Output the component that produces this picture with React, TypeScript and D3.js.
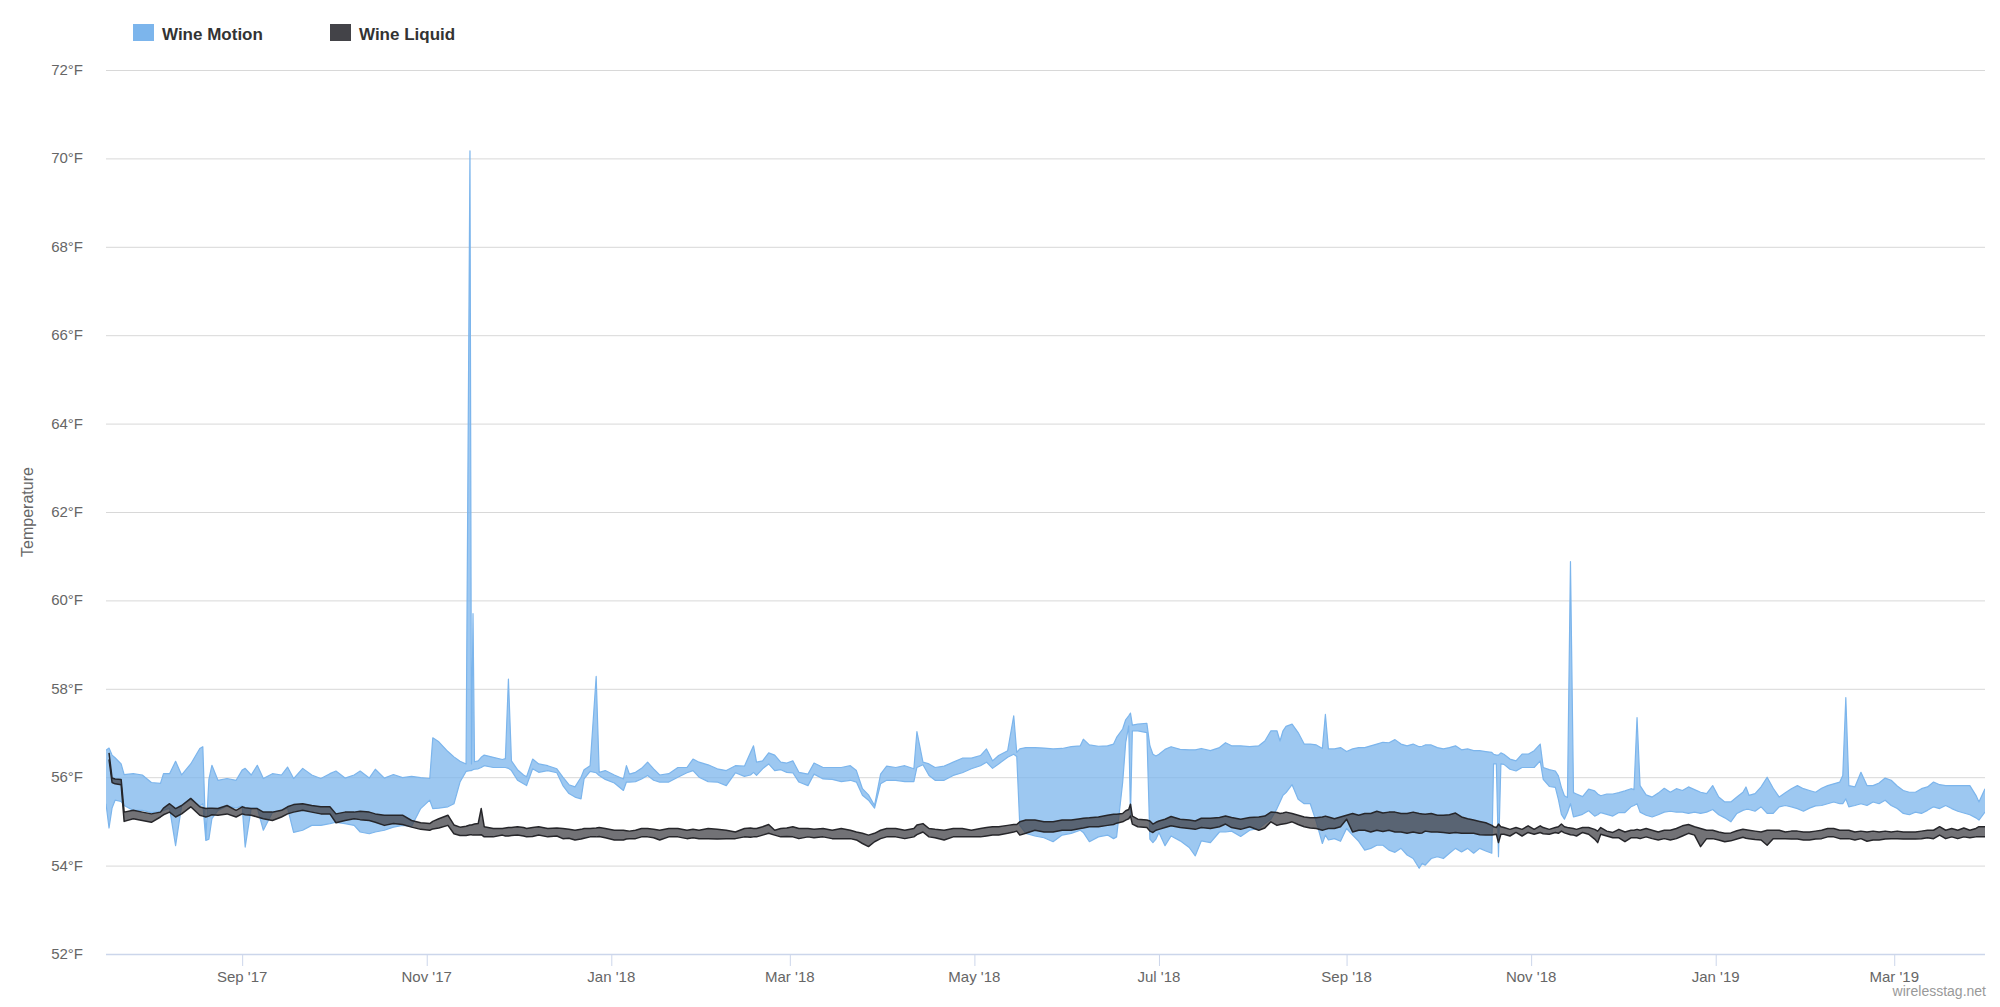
import React from "react";
import * as d3 from "d3";

// ---- Data (daily min/max ranges) ----
const dates: string[] = [
  // Jul 2017
  "2017-07-18","2017-07-19","2017-07-20","2017-07-21","2017-07-23","2017-07-24","2017-07-27","2017-07-30",
  // Aug 2017
  "2017-08-02","2017-08-05","2017-08-06","2017-08-08","2017-08-10","2017-08-12","2017-08-15","2017-08-18","2017-08-19","2017-08-20","2017-08-21","2017-08-22","2017-08-24","2017-08-27","2017-08-30",
  // Sep 2017
  "2017-09-01","2017-09-02","2017-09-04","2017-09-06","2017-09-08","2017-09-11","2017-09-14","2017-09-16","2017-09-18","2017-09-21","2017-09-24","2017-09-27","2017-09-30",
  // Oct 2017
  "2017-10-02","2017-10-05","2017-10-08","2017-10-10","2017-10-13","2017-10-15","2017-10-18","2017-10-21","2017-10-24","2017-10-27","2017-10-30",
  // Nov 2017
  "2017-11-02","2017-11-03","2017-11-05","2017-11-08","2017-11-10","2017-11-12","2017-11-14","2017-11-15T07:00","2017-11-15T19:00","2017-11-16T07:00","2017-11-16T19:00","2017-11-18","2017-11-19","2017-11-20","2017-11-23","2017-11-26","2017-11-27","2017-11-28","2017-11-29",
  // Dec 2017
  "2017-12-01","2017-12-03","2017-12-04","2017-12-06","2017-12-08","2017-12-11","2017-12-14","2017-12-16","2017-12-18","2017-12-20","2017-12-22","2017-12-23","2017-12-25","2017-12-27","2017-12-28","2017-12-30",
  // Jan 2018
  "2018-01-02","2018-01-05","2018-01-06","2018-01-07","2018-01-09","2018-01-11","2018-01-13","2018-01-15","2018-01-17","2018-01-20","2018-01-23","2018-01-26","2018-01-28","2018-01-30",
  // Feb 2018
  "2018-02-02","2018-02-05","2018-02-08","2018-02-11","2018-02-14","2018-02-16","2018-02-17","2018-02-18","2018-02-20","2018-02-22","2018-02-24","2018-02-26","2018-02-28",
  // Mar 2018
  "2018-03-02","2018-03-04","2018-03-07","2018-03-09","2018-03-12","2018-03-15","2018-03-18","2018-03-21","2018-03-23","2018-03-25","2018-03-27","2018-03-29","2018-03-31",
  // Apr 2018
  "2018-04-02","2018-04-05","2018-04-08","2018-04-11","2018-04-12","2018-04-14","2018-04-16","2018-04-18","2018-04-21","2018-04-24","2018-04-27","2018-04-30",
  // May 2018
  "2018-05-03","2018-05-05","2018-05-07","2018-05-09","2018-05-12","2018-05-14","2018-05-15","2018-05-16","2018-05-18","2018-05-21","2018-05-24","2018-05-27","2018-05-30",
  // Jun 2018
  "2018-06-02","2018-06-05","2018-06-06","2018-06-08","2018-06-11","2018-06-14","2018-06-16","2018-06-17","2018-06-19","2018-06-20","2018-06-21","2018-06-21T14:00","2018-06-22T05:00","2018-06-24","2018-06-27","2018-06-28","2018-06-29","2018-06-30",
  // Jul 2018
  "2018-07-01","2018-07-03","2018-07-05","2018-07-08","2018-07-11","2018-07-13","2018-07-15","2018-07-18","2018-07-21","2018-07-23","2018-07-25","2018-07-28","2018-07-31",
  // Aug 2018
  "2018-08-03","2018-08-05","2018-08-07","2018-08-09","2018-08-10","2018-08-11","2018-08-12","2018-08-14","2018-08-16","2018-08-18","2018-08-20","2018-08-22","2018-08-24","2018-08-25","2018-08-26","2018-08-28","2018-08-30",
  // Sep 2018
  "2018-09-01","2018-09-03","2018-09-05","2018-09-07","2018-09-09","2018-09-11","2018-09-13","2018-09-15","2018-09-17","2018-09-19","2018-09-21","2018-09-23","2018-09-25","2018-09-26","2018-09-27","2018-09-29",
  // Oct 2018
  "2018-10-01","2018-10-03","2018-10-05","2018-10-07","2018-10-09","2018-10-11","2018-10-13","2018-10-15","2018-10-17","2018-10-19","2018-10-19T14:00","2018-10-20T12:00","2018-10-21T05:00","2018-10-22","2018-10-23","2018-10-25","2018-10-27","2018-10-29","2018-10-31",
  // Nov 2018
  "2018-11-02","2018-11-04","2018-11-05","2018-11-07","2018-11-09","2018-11-10","2018-11-11","2018-11-12","2018-11-13","2018-11-14","2018-11-15","2018-11-16","2018-11-18","2018-11-20","2018-11-22","2018-11-23","2018-11-24","2018-11-26","2018-11-28","2018-11-30",
  // Dec 2018
  "2018-12-02","2018-12-04","2018-12-05","2018-12-06","2018-12-07","2018-12-09","2018-12-11","2018-12-13","2018-12-15","2018-12-17","2018-12-19","2018-12-21","2018-12-23","2018-12-25","2018-12-27","2018-12-29","2018-12-31",
  // Jan 2019
  "2019-01-02","2019-01-04","2019-01-06","2019-01-08","2019-01-10","2019-01-11","2019-01-12","2019-01-14","2019-01-16","2019-01-18","2019-01-20","2019-01-22","2019-01-24","2019-01-26","2019-01-28","2019-01-30",
  // Feb 2019
  "2019-02-01","2019-02-03","2019-02-05","2019-02-07","2019-02-09","2019-02-11","2019-02-12","2019-02-13","2019-02-14","2019-02-16","2019-02-18","2019-02-20","2019-02-22","2019-02-24","2019-02-26","2019-02-28",
  // Mar 2019
  "2019-03-02","2019-03-04","2019-03-06","2019-03-08","2019-03-10","2019-03-12","2019-03-14","2019-03-16","2019-03-18","2019-03-20","2019-03-22","2019-03-24","2019-03-26","2019-03-28","2019-03-29","2019-03-31",
];

const motionLow: number[] = [
  55.40, 54.85, 55.30, 55.48, 55.45, 55.36, 55.25, 55.25,
  55.20, 55.22, 55.25, 55.30, 54.45, 55.35, 55.50, 55.35, 55.40, 54.57, 54.60, 55.06, 55.25, 55.35, 55.30,
  55.35, 54.42, 55.30, 55.30, 54.80, 55.20, 55.25, 55.30, 54.75, 54.80, 54.91, 54.91, 54.95,
  54.98, 54.95, 54.91, 54.76, 54.72, 54.76, 54.80, 54.87, 54.91, 54.89, 55.29,
  55.48, 55.29, 55.30, 55.33, 55.40, 55.89, 56.13, 56.15, 56.15, 56.17, 56.18, 56.19, 56.22, 56.26, 56.22, 56.22, 56.22, 56.20, 56.15,
  55.93, 55.85, 55.81, 56.19, 56.11, 56.15, 56.10, 55.81, 55.63, 55.55, 55.51, 55.96, 56.13, 56.10, 56.04, 55.95,
  55.87, 55.70, 55.89, 55.89, 55.90, 55.96, 56.04, 55.93, 55.89, 55.89, 56.00, 56.10, 56.15, 56.00,
  55.90, 55.89, 55.81, 56.10, 56.02, 56.05, 56.11, 56.04, 56.19, 56.30, 56.15, 56.17, 56.11,
  56.10, 55.89, 55.81, 56.07, 55.96, 55.95, 55.90, 55.93, 55.89, 55.59, 55.48, 55.30, 55.85,
  55.93, 55.93, 55.90, 55.90, 56.22, 56.28, 56.04, 55.93, 55.93, 56.04, 56.10, 56.19,
  56.26, 56.34, 56.20, 56.30, 56.45, 56.52, 56.47, 54.91, 54.73, 54.67, 54.63, 54.54, 54.69,
  54.73, 54.80, 54.75, 54.54, 54.65, 54.69, 54.61, 54.65, 55.88, 56.78, 57.16, 55.12, 57.05, 57.05, 57.01, 54.60, 54.52, 54.60,
  54.75, 54.45, 54.67, 54.56, 54.41, 54.22, 54.56, 54.52, 54.76, 54.76, 54.78, 54.66, 54.80,
  54.84, 54.95, 55.05, 55.29, 55.44, 55.59, 55.65, 55.83, 55.50, 55.40, 55.40, 54.99, 54.50, 54.69, 54.58, 54.61, 54.55,
  54.84, 54.69, 54.55, 54.35, 54.39, 54.46, 54.46, 54.35, 54.30, 54.39, 54.24, 54.16, 53.94, 54.05, 54.01, 54.16,
  54.20, 54.16, 54.28, 54.39, 54.31, 54.39, 54.28, 54.39, 54.33, 54.28, 56.30, 56.30, 54.20, 56.30, 56.29, 56.18, 56.14, 56.22, 56.22,
  56.22, 56.37, 55.95, 55.79, 55.77, 55.50, 55.16, 55.05, 55.20, 55.40, 55.10, 55.12, 55.16, 55.24, 55.12, 55.15, 55.20, 55.16, 55.12, 55.20,
  55.20, 55.33, 55.36, 55.40, 55.21, 55.14, 55.10, 55.15, 55.21, 55.23, 55.21, 55.21, 55.18, 55.21, 55.18, 55.21, 55.27,
  55.15, 55.08, 54.99, 55.18, 55.25, 55.27, 55.27, 55.23, 55.33, 55.18, 55.18, 55.33, 55.36, 55.33, 55.29, 55.23,
  55.30, 55.35, 55.36, 55.40, 55.44, 55.40, 55.40, 55.51, 55.33, 55.36, 55.40, 55.36, 55.44, 55.40, 55.48, 55.36,
  55.29, 55.18, 55.15, 55.21, 55.18, 55.25, 55.33, 55.29, 55.36, 55.29, 55.23, 55.19, 55.15, 55.08, 55.03, 55.21,
];

const motionHigh: number[] = [
  56.61, 56.66, 56.50, 56.44, 56.30, 56.06, 56.08, 56.05,
  55.88, 55.86, 56.08, 56.08, 56.36, 56.05, 56.30, 56.65, 56.69, 54.61, 55.95, 56.27, 55.93, 55.97, 55.93,
  56.16, 56.20, 56.05, 56.27, 55.97, 56.08, 56.05, 56.23, 55.97, 56.20, 56.05, 55.97, 56.08,
  56.14, 55.98, 56.05, 56.14, 55.98, 56.18, 55.98, 56.06, 55.99, 56.02, 55.99,
  55.97, 56.89, 56.80, 56.58, 56.46, 56.36, 56.30, 70.17, 56.30, 59.70, 56.35, 56.37, 56.45, 56.50, 56.45, 56.40, 56.42, 58.22, 56.37,
  56.17, 56.05, 56.01, 56.41, 56.30, 56.26, 56.19, 56.00, 55.83, 55.78, 56.00, 56.17, 56.26, 58.28, 56.11, 56.15,
  56.05, 55.96, 56.26, 56.07, 56.11, 56.20, 56.34, 56.19, 56.05, 56.08, 56.22, 56.22, 56.41, 56.34,
  56.28, 56.19, 56.15, 56.26, 56.25, 56.56, 56.71, 56.34, 56.37, 56.55, 56.50, 56.34, 56.32,
  56.37, 56.11, 56.07, 56.32, 56.22, 56.22, 56.22, 56.26, 56.15, 55.74, 55.60, 55.36, 56.07,
  56.25, 56.22, 56.26, 56.19, 57.03, 56.34, 56.30, 56.22, 56.25, 56.34, 56.43, 56.43,
  56.49, 56.64, 56.37, 56.49, 56.60, 57.39, 56.56, 56.64, 56.67, 56.67, 56.66, 56.64, 56.65,
  56.69, 56.71, 56.86, 56.73, 56.70, 56.71, 56.75, 56.90, 57.09, 57.30, 57.39, 57.45, 57.18, 57.20, 57.22, 56.71, 56.52, 56.48,
  56.52, 56.63, 56.69, 56.63, 56.62, 56.62, 56.65, 56.60, 56.67, 56.78, 56.71, 56.71, 56.69,
  56.71, 56.82, 57.05, 57.05, 56.82, 57.05, 57.15, 57.20, 57.01, 56.75, 56.75, 56.73, 56.65, 57.42, 56.64, 56.64, 56.67,
  56.58, 56.64, 56.67, 56.67, 56.71, 56.75, 56.79, 56.78, 56.85, 56.75, 56.71, 56.75, 56.69, 56.70, 56.73, 56.73,
  56.67, 56.64, 56.67, 56.71, 56.62, 56.64, 56.60, 56.60, 56.58, 56.56, 56.52, 56.50, 56.50, 56.55, 56.52, 56.41, 56.37, 56.52, 56.52,
  56.60, 56.75, 56.22, 56.17, 56.14, 56.03, 55.77, 55.58, 55.54, 60.88, 55.65, 55.62, 55.56, 55.73, 55.69, 55.62, 55.58, 55.62, 55.62, 55.65,
  55.69, 55.74, 55.72, 57.35, 55.81, 55.60, 55.55, 55.64, 55.75, 55.66, 55.74, 55.70, 55.78, 55.72, 55.66, 55.63, 55.81,
  55.55, 55.44, 55.44, 55.55, 55.66, 55.78, 55.59, 55.63, 55.78, 56.00, 55.75, 55.55, 55.65, 55.74, 55.81, 55.74,
  55.70, 55.66, 55.75, 55.81, 55.85, 55.89, 56.04, 57.80, 55.81, 55.78, 56.11, 55.81, 55.81, 55.87, 55.98, 55.93,
  55.80, 55.70, 55.66, 55.66, 55.74, 55.78, 55.89, 55.83, 55.81, 55.81, 55.81, 55.81, 55.81, 55.59, 55.44, 55.74,
];

const liquidLow: (number | null)[] = [
  null, 56.40, 55.88, 55.85, 55.83, 55.00, 55.06, 55.02,
  54.98, 55.10, 55.15, 55.21, 55.10, 55.17, 55.33, 55.14, 55.12, 55.10, 55.12, 55.15, 55.14, 55.17, 55.10,
  55.17, 55.15, 55.14, 55.10, 55.06, 55.02, 55.10, 55.17, 55.21, 55.25, 55.21, 55.17, 55.17,
  54.97, 55.02, 55.06, 55.04, 55.02, 54.98, 54.91, 54.95, 54.93, 54.87, 54.82,
  54.80, 54.83, 54.85, 54.91, 54.72, 54.68, 54.68, 54.70, 54.70, 54.69, 54.69, 54.69, 54.70, 54.65, 54.65, 54.69, 54.67, 54.67, 54.68,
  54.69, 54.67, 54.65, 54.66, 54.69, 54.65, 54.67, 54.61, 54.62, 54.58, 54.60, 54.62, 54.65, 54.65, 54.66, 54.63,
  54.58, 54.58, 54.60, 54.61, 54.61, 54.65, 54.65, 54.63, 54.58, 54.65, 54.65, 54.61, 54.63, 54.61,
  54.61, 54.60, 54.61, 54.61, 54.65, 54.64, 54.65, 54.65, 54.69, 54.73, 54.69, 54.65, 54.66,
  54.65, 54.61, 54.65, 54.63, 54.65, 54.61, 54.61, 54.61, 54.58, 54.50, 54.43, 54.54, 54.61,
  54.65, 54.65, 54.61, 54.65, 54.70, 54.76, 54.65, 54.63, 54.58, 54.65, 54.65, 54.65,
  54.65, 54.67, 54.69, 54.69, 54.73, 54.76, 54.78, 54.69, 54.73, 54.80, 54.76, 54.76, 54.80,
  54.80, 54.84, 54.85, 54.88, 54.88, 54.91, 54.93, 54.96, 54.99, 55.03, 55.06, 55.12, 54.94, 54.88, 54.86, 54.78, 54.75, 54.80,
  54.82, 54.86, 54.90, 54.86, 54.84, 54.82, 54.86, 54.84, 54.88, 54.94, 54.86, 54.82, 54.88,
  54.80, 54.85, 54.99, 54.91, 54.93, 54.94, 54.95, 54.99, 54.93, 54.88, 54.85, 54.84, 54.80, 54.82, 54.84, 54.84, 54.88,
  55.05, 54.76, 54.80, 54.80, 54.76, 54.80, 54.77, 54.80, 54.76, 54.76, 54.73, 54.76, 54.73, 54.74, 54.78, 54.76,
  54.76, 54.75, 54.73, 54.75, 54.73, 54.73, 54.73, 54.70, 54.69, 54.69, 54.70, 54.71, 54.52, 54.71, 54.71, 54.67, 54.75, 54.67, 54.75,
  54.71, 54.75, 54.72, 54.71, 54.75, 54.73, 54.78, 54.74, 54.72, 54.70, 54.69, 54.67, 54.75, 54.71, 54.60, 54.52, 54.71, 54.67, 54.63, 54.63,
  54.54, 54.63, 54.63, 54.63, 54.61, 54.65, 54.61, 54.58, 54.61, 54.58, 54.61, 54.67, 54.73, 54.69, 54.43, 54.61, 54.61,
  54.58, 54.54, 54.56, 54.60, 54.64, 54.62, 54.61, 54.59, 54.58, 54.46, 54.61, 54.61, 54.61, 54.60, 54.60, 54.58,
  54.58, 54.60, 54.61, 54.65, 54.65, 54.61, 54.61, 54.61, 54.61, 54.58, 54.61, 54.55, 54.58, 54.58, 54.60, 54.61,
  54.61, 54.60, 54.60, 54.60, 54.61, 54.63, 54.61, 54.69, 54.61, 54.65, 54.61, 54.65, 54.63, 54.65, 54.65, 54.65,
];

const liquidHigh: (number | null)[] = [
  null, 56.55, 55.98, 55.96, 55.95, 55.21, 55.25, 55.21,
  55.17, 55.21, 55.30, 55.40, 55.29, 55.36, 55.52, 55.33, 55.31, 55.29, 55.30, 55.30, 55.29, 55.36, 55.25,
  55.33, 55.31, 55.29, 55.29, 55.21, 55.21, 55.25, 55.33, 55.38, 55.40, 55.36, 55.33, 55.33,
  55.17, 55.21, 55.21, 55.23, 55.21, 55.17, 55.14, 55.14, 55.14, 55.02, 54.97,
  54.95, 55.00, 55.06, 55.14, 54.92, 54.87, 54.89, 54.92, 54.92, 54.93, 54.94, 54.95, 55.29, 54.88, 54.84, 54.84, 54.85, 54.86, 54.86,
  54.88, 54.86, 54.84, 54.86, 54.88, 54.84, 54.85, 54.84, 54.82, 54.80, 54.82, 54.84, 54.84, 54.85, 54.86, 54.84,
  54.80, 54.80, 54.79, 54.78, 54.80, 54.84, 54.84, 54.82, 54.80, 54.84, 54.84, 54.80, 54.82, 54.80,
  54.84, 54.82, 54.80, 54.76, 54.84, 54.85, 54.84, 54.84, 54.88, 54.93, 54.80, 54.84, 54.85,
  54.88, 54.84, 54.84, 54.82, 54.84, 54.80, 54.84, 54.80, 54.76, 54.73, 54.69, 54.73, 54.80,
  54.84, 54.84, 54.80, 54.84, 54.92, 54.95, 54.84, 54.82, 54.80, 54.84, 54.84, 54.80,
  54.84, 54.86, 54.88, 54.88, 54.91, 54.93, 54.93, 54.99, 55.03, 55.03, 54.99, 54.99, 55.03,
  55.03, 55.06, 55.07, 55.08, 55.10, 55.14, 55.16, 55.16, 55.18, 55.24, 55.27, 55.39, 55.12, 55.05, 55.03, 55.01, 54.94, 54.98,
  55.01, 55.05, 55.11, 55.05, 55.03, 55.01, 55.07, 55.07, 55.09, 55.12, 55.09, 55.05, 55.09,
  55.10, 55.12, 55.21, 55.20, 55.18, 55.19, 55.21, 55.18, 55.14, 55.10, 55.08, 55.08, 55.10, 55.12, 55.10, 55.06, 55.10,
  55.14, 55.18, 55.14, 55.18, 55.18, 55.23, 55.19, 55.21, 55.21, 55.18, 55.18, 55.21, 55.18, 55.17, 55.16, 55.18,
  55.14, 55.14, 55.15, 55.19, 55.10, 55.06, 55.03, 55.00, 54.97, 54.91, 54.88, 54.86, 54.94, 54.88, 54.86, 54.82, 54.86, 54.82, 54.90,
  54.82, 54.90, 54.86, 54.82, 54.86, 54.88, 54.94, 54.88, 54.86, 54.85, 54.84, 54.82, 54.86, 54.86, 54.82, 54.78, 54.86, 54.78, 54.75, 54.82,
  54.76, 54.80, 54.80, 54.82, 54.80, 54.84, 54.80, 54.76, 54.80, 54.80, 54.84, 54.90, 54.93, 54.88, 54.84, 54.80, 54.80,
  54.76, 54.73, 54.74, 54.79, 54.82, 54.81, 54.80, 54.78, 54.76, 54.80, 54.80, 54.80, 54.76, 54.78, 54.78, 54.76,
  54.76, 54.78, 54.80, 54.84, 54.84, 54.80, 54.80, 54.80, 54.80, 54.76, 54.78, 54.76, 54.78, 54.76, 54.78, 54.76,
  54.78, 54.76, 54.76, 54.76, 54.78, 54.80, 54.80, 54.88, 54.80, 54.84, 54.80, 54.85, 54.80, 54.84, 54.88, 54.88,
];

const seriesNames = ["Wine Motion", "Wine Liquid"];
const seriesColors = ["#7cb5ec", "#434348"];
const yTicks = [52, 54, 56, 58, 60, 62, 64, 66, 68, 70, 72];
const yTitle = "Temperature";
const credit = "wirelesstag.net";

const FONT = '"Liberation Sans", Arial, Helvetica, sans-serif';

type Row = { t: Date; ml: number; mh: number; ll: number | null; lh: number | null };

const parseDate = (s: string): Date =>
  new Date(s.length === 10 ? s + "T00:00:00Z" : s + ":00Z");

export default function App() {
  const W = 2000;
  const H = 1007;
  const left = 106;
  const right = 1985;
  const top = 70;
  const bottom = 954;

  const n = Math.min(dates.length, motionLow.length, motionHigh.length, liquidLow.length, liquidHigh.length);
  const rows: Row[] = [];
  for (let i = 0; i < n; i++) {
    rows.push({ t: parseDate(dates[i]), ml: motionLow[i], mh: motionHigh[i], ll: liquidLow[i], lh: liquidHigh[i] });
  }

  const x = d3
    .scaleUtc()
    .domain(d3.extent(rows, (r) => r.t) as [Date, Date])
    .range([left, right]);
  const y = d3.scaleLinear().domain([52, 72]).range([bottom, top]);

  const motionArea = d3
    .area<Row>()
    .x((r) => x(r.t))
    .y0((r) => y(r.ml))
    .y1((r) => y(r.mh));
  const motionHi = d3.line<Row>().x((r) => x(r.t)).y((r) => y(r.mh));
  const motionLo = d3.line<Row>().x((r) => x(r.t)).y((r) => y(r.ml));

  const defL = (r: Row) => r.ll != null && r.lh != null;
  const liquidArea = d3
    .area<Row>()
    .defined(defL)
    .x((r) => x(r.t))
    .y0((r) => y(r.ll as number))
    .y1((r) => y(r.lh as number));
  const liquidHi = d3.line<Row>().defined(defL).x((r) => x(r.t)).y((r) => y(r.lh as number));
  const liquidLo = d3.line<Row>().defined(defL).x((r) => x(r.t)).y((r) => y(r.ll as number));

  const xTicks = x.ticks(d3.utcMonth.every(2) as any);
  const fmt = d3.utcFormat("%b '%y");

  return (
    <div style={{ position: "absolute", left: 0, top: 0, width: W, height: H, background: "#fff" }}>
      <svg width={W} height={H} style={{ display: "block", fontFamily: FONT }}>
        <defs>
          <clipPath id="plotClip">
            <rect x={left} y={top - 5} width={right - left} height={bottom - top + 5} />
          </clipPath>
        </defs>
        <rect x={0} y={0} width={W} height={H} fill="#ffffff" />

        {/* grid lines */}
        {yTicks.map((v) =>
          v === 52 ? null : (
            <line key={"g" + v} x1={left} x2={right} y1={y(v) + 0.5} y2={y(v) + 0.5} stroke="#d8d8d8" strokeWidth={1} />
          )
        )}

        {/* y labels */}
        {yTicks.map((v) => (
          <text key={"yl" + v} x={83} y={y(v) + 5} textAnchor="end" fontSize={15} fill="#666666">
            {v}°F
          </text>
        ))}

        {/* y title */}
        <text
          transform={`translate(${29},${(top + bottom) / 2}) rotate(-90)`}
          textAnchor="middle"
          dominantBaseline="middle"
          fontSize={16}
          fill="#666666"
        >
          {yTitle}
        </text>

        <g clipPath="url(#plotClip)">
          {/* Wine Motion */}
          <path d={motionArea(rows) || ""} fill={seriesColors[0]} fillOpacity={0.75} stroke="none" />
          <path d={motionHi(rows) || ""} fill="none" stroke={seriesColors[0]} strokeWidth={1.2} strokeLinejoin="round" />
          <path d={motionLo(rows) || ""} fill="none" stroke={seriesColors[0]} strokeWidth={1.2} strokeLinejoin="round" />
          {/* Wine Liquid */}
          <path d={liquidArea(rows) || ""} fill={seriesColors[1]} fillOpacity={0.75} stroke="none" />
          <path d={liquidHi(rows) || ""} fill="none" stroke="#26262a" strokeWidth={1.5} strokeLinejoin="round" />
          <path d={liquidLo(rows) || ""} fill="none" stroke="#26262a" strokeWidth={1.5} strokeLinejoin="round" />
        </g>

        {/* x axis */}
        <line x1={left} x2={right} y1={bottom + 0.5} y2={bottom + 0.5} stroke="#ccd6eb" strokeWidth={1.3} />
        {xTicks.map((t) => (
          <g key={"xt" + t.toISOString()}>
            <line x1={x(t) + 0.5} x2={x(t) + 0.5} y1={bottom} y2={bottom + 12} stroke="#ccd6eb" strokeWidth={1} />
            <text x={x(t)} y={bottom + 28} textAnchor="middle" fontSize={15} fill="#666666">
              {fmt(t)}
            </text>
          </g>
        ))}

        {/* legend */}
        <rect x={133} y={24} width={21} height={17} fill={seriesColors[0]} />
        <text x={162} y={39.5} fontSize={17} fontWeight="bold" fill="#333333">
          {seriesNames[0]}
        </text>
        <rect x={330} y={24} width={21} height={17} fill={seriesColors[1]} />
        <text x={359} y={39.5} fontSize={17} fontWeight="bold" fill="#333333">
          {seriesNames[1]}
        </text>

        {/* credits */}
        <text x={1986} y={996} textAnchor="end" fontSize={14} fill="#999999">
          {credit}
        </text>
      </svg>
    </div>
  );
}
